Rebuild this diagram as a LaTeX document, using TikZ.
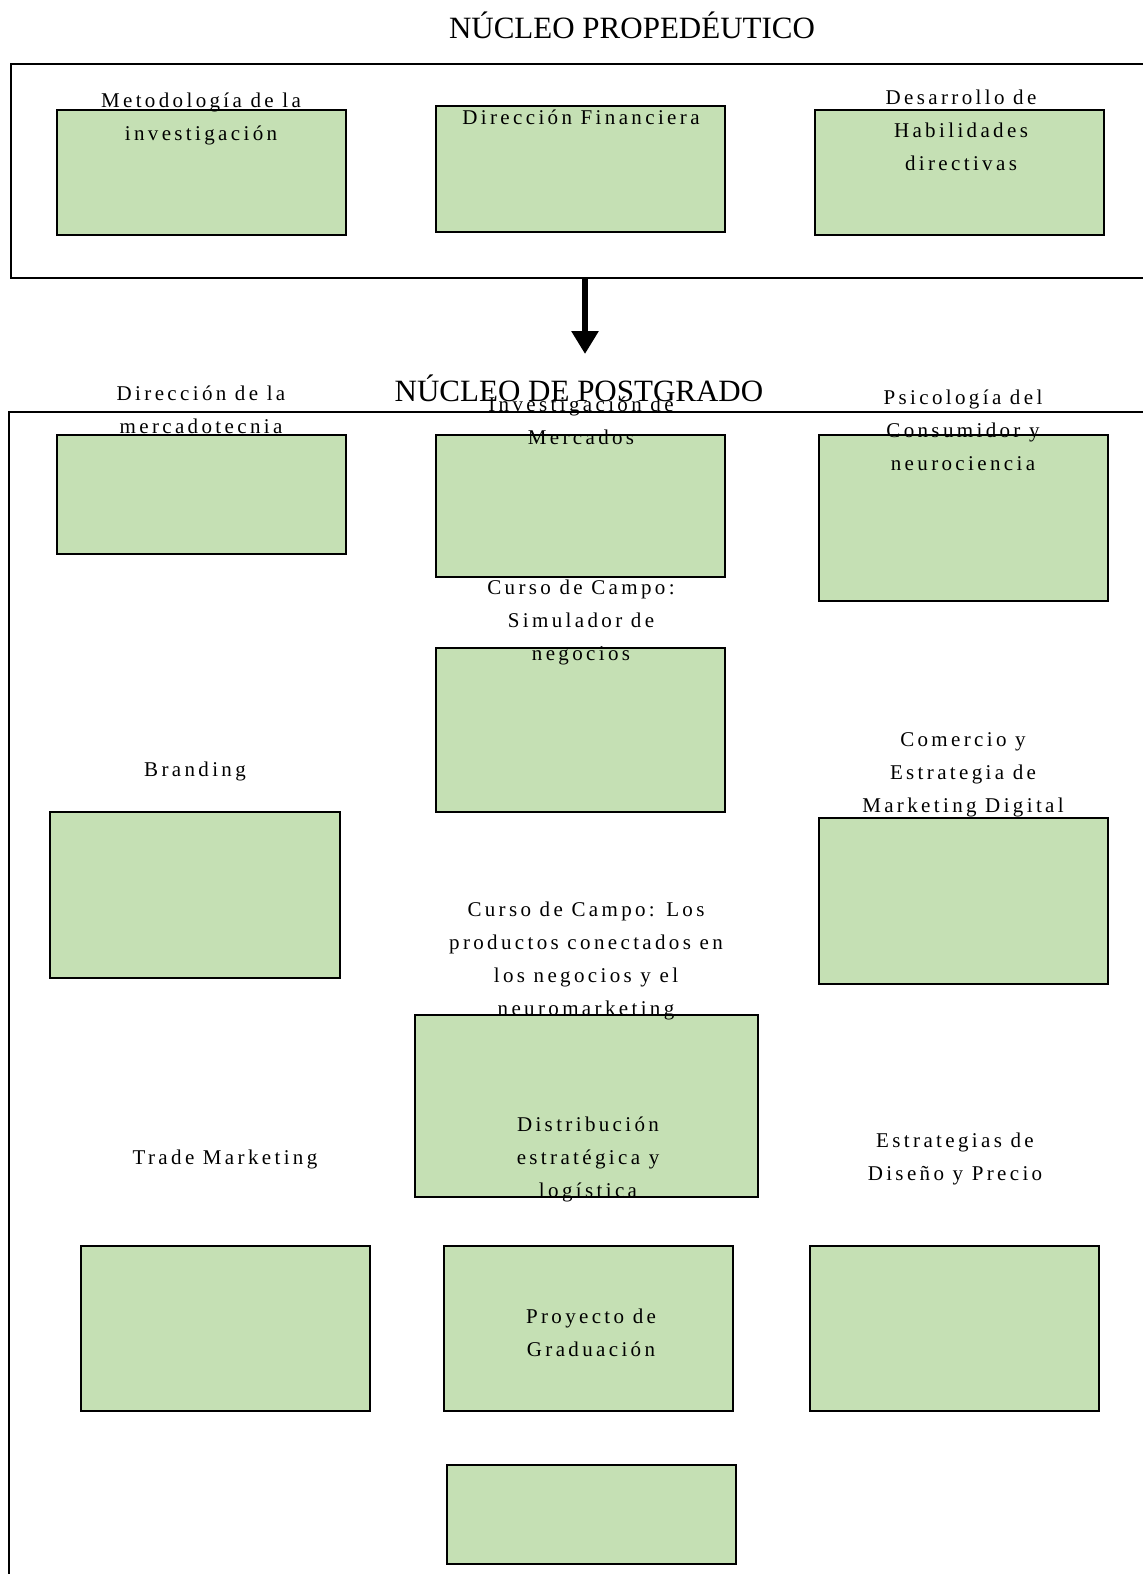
\documentclass[tikz,border=0pt]{standalone}
\usepackage{fontspec}
\setmainfont{Liberation Serif}
\newfontfamily\spacedfont[LetterSpace=16]{Liberation Serif}
\usetikzlibrary{positioning, arrows.meta}
\definecolor{coursegreen}{RGB}{197,224,180}

\begin{document}
\begin{tikzpicture}[
        x=1pt, y=-1pt,
        course_node/.style={draw=black, rectangle, fill=coursegreen, line width=2pt, inner sep=0pt},
        frame_box/.style={draw=black, rectangle, line width=1.8pt, inner sep=0pt, anchor=north west},
        course_text/.style={align=center, inner sep=0pt, font=\spacedfont\fontsize{21}{33}\selectfont},
        core_title/.style={inner sep=0pt, font=\fontsize{31}{34}\selectfont},
        arrow/.style={-{Triangle[width=26pt, length=23pt]}, line width=6pt}
    ]
        \useasboundingbox (0,0) rectangle (1143,1574);

        % Frames
        \node (frame_top) [frame_box, minimum width=1160pt, minimum height=214pt] at (10,63) {};
        \node (frame_post) [frame_box, minimum width=1160pt, minimum height=1200pt] at (8,411) {};

        % Titles
        \node (title_prop) [core_title] at (632,25) {NÚCLEO PROPEDÉUTICO};

        % Boxes, top block
        \node (metodologia) [course_node, minimum width=289pt, minimum height=125pt] at (201.5,172.5) {};
        \node (financiera) [course_node, minimum width=289pt, minimum height=126pt] at (580.5,169) {};
        \node (habilidades) [course_node, minimum width=289pt, minimum height=125pt] at (959.5,172.5) {};

        % Boxes, postgrado block
        \node (mercadotecnia) [course_node, minimum width=289pt, minimum height=119pt] at (201.5,494) {};
        \node (mercados) [course_node, minimum width=289pt, minimum height=142pt] at (580.5,505.5) {};
        \node (psicologia) [course_node, minimum width=289pt, minimum height=166pt] at (963.5,517.5) {};
        \node (simulador) [course_node, minimum width=289pt, minimum height=164pt] at (580.5,729.5) {};
        \node (branding) [course_node, minimum width=290pt, minimum height=166pt] at (195,894.5) {};
        \node (digital) [course_node, minimum width=289pt, minimum height=166pt] at (963.5,900.5) {};
        \node (conectados) [course_node, minimum width=343pt, minimum height=182pt] at (586.5,1106) {};
        \node (trade) [course_node, minimum width=289pt, minimum height=165pt] at (225.5,1328.5) {};
        \node (distribucion) [course_node, minimum width=289pt, minimum height=165pt] at (588.5,1328.5) {};
        \node (diseno) [course_node, minimum width=289pt, minimum height=165pt] at (954.5,1328.5) {};
        \node (graduacion) [course_node, minimum width=289pt, minimum height=99pt] at (591.5,1514) {};

        % Labels
        \node (t_metodologia) [course_text] at (201,119) {Metodología de la\\investigación};
        \node (t_financiera) [course_text] at (581,117) {Dirección Financiera};
        \node (t_habilidades) [course_text] at (961,130) {Desarrollo de\\Habilidades\\directivas};
        \node (title_post) [core_title] at (579,388) {NÚCLEO DE POSTGRADO};
        \node (t_mercadotecnia) [course_text] at (201,410) {Dirección de la\\mercadotecnia};
        \node (t_mercados) [course_text] at (581,421) {Investigación de\\Mercados};
        \node (t_psicologia) [course_text] at (963,430) {Psicología del\\Consumidor y\\neurociencia};
        \node (t_simulador) [course_text] at (581,622) {Curso de Campo:\\Simulador de\\negocios};
        \node (t_branding) [course_text] at (195,771) {Branding};
        \node (t_digital) [course_text] at (963,775) {Comercio y\\Estrategia de\\Marketing Digital};
        \node (t_conectados) [course_text] at (586,961) {Curso de Campo: Los\\productos conectados en\\los negocios y el\\neuromarketing};
        \node (t_distribucion) [course_text] at (588,1159) {Distribución\\estratégica y\\logística};
        \node (t_trade) [course_text] at (225,1159) {Trade Marketing};
        \node (t_diseno) [course_text] at (955,1159) {Estrategias de\\Diseño y Precio};
        \node (t_graduacion) [course_text] at (591,1333) {Proyecto de\\Graduación};

        % Arrow
        \coordinate (arrow_tip) at (585,354);
        \draw [arrow] (frame_top.south -| arrow_tip) -- (arrow_tip);
    \end{tikzpicture}
\end{document}
